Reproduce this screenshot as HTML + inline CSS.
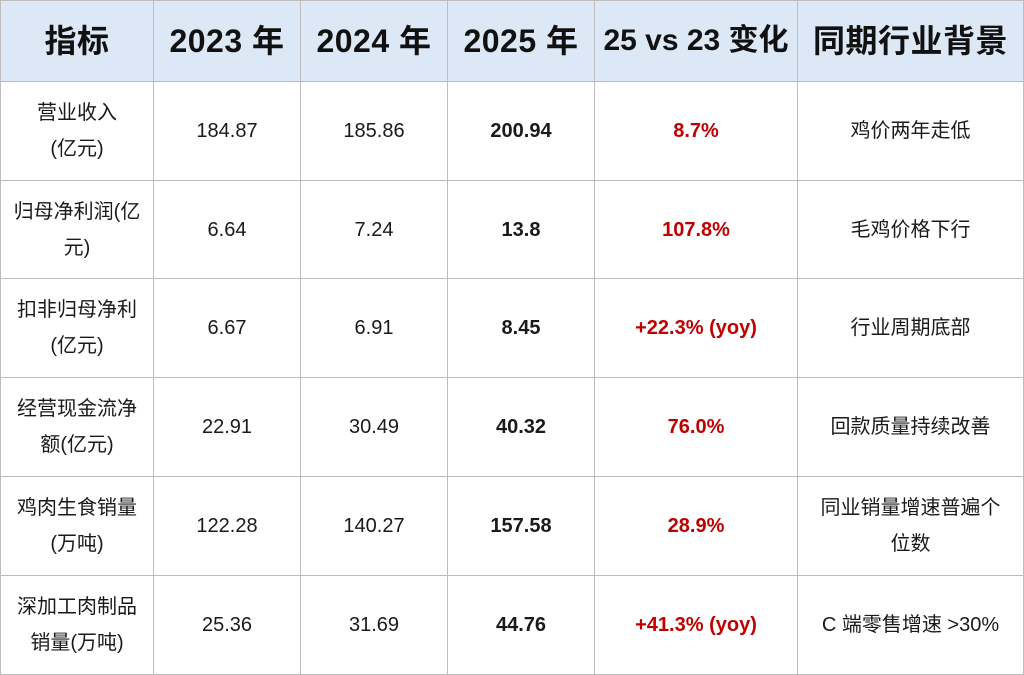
<!DOCTYPE html>
<html><head><meta charset="utf-8"><style>
body{margin:0;background:#fff;}
table{position:absolute;left:0;top:0;width:1023px;height:675px;border-collapse:collapse;table-layout:fixed;font-family:"Liberation Sans","Noto Sans CJK SC",sans-serif;color:#1a1a1a;}
td,th{border:1.5px solid #bdbdbd;text-align:center;vertical-align:middle;padding:0 4px;font-size:20px;line-height:36px;}
th{background:#dce8f6;font-size:32px;font-weight:bold;height:79px;color:#111;letter-spacing:0.5px;}
td{height:97px;}
.b{font-weight:bold;}
.r{color:#c00000;font-weight:bold;}
</style></head><body>
<table>
<colgroup><col style="width:153px"><col style="width:147px"><col style="width:147px"><col style="width:147px"><col style="width:203px"><col style="width:226px"></colgroup>
<tr><th>指标</th><th>2023 年</th><th>2024 年</th><th>2025 年</th><th style="font-size:30px;letter-spacing:0">25 vs 23 变化</th><th>同期行业背景</th></tr>
<tr><td>营业收入<br>(亿元)</td><td>184.87</td><td>185.86</td><td class="b">200.94</td><td class="r">8.7%</td><td>鸡价两年走低</td></tr>
<tr><td>归母净利润(亿<br>元)</td><td>6.64</td><td>7.24</td><td class="b">13.8</td><td class="r">107.8%</td><td>毛鸡价格下行</td></tr>
<tr><td>扣非归母净利<br>(亿元)</td><td>6.67</td><td>6.91</td><td class="b">8.45</td><td class="r">+22.3% (yoy)</td><td>行业周期底部</td></tr>
<tr><td>经营现金流净<br>额(亿元)</td><td>22.91</td><td>30.49</td><td class="b">40.32</td><td class="r">76.0%</td><td>回款质量持续改善</td></tr>
<tr><td>鸡肉生食销量<br>(万吨)</td><td>122.28</td><td>140.27</td><td class="b">157.58</td><td class="r">28.9%</td><td>同业销量增速普遍个<br>位数</td></tr>
<tr><td>深加工肉制品<br>销量(万吨)</td><td>25.36</td><td>31.69</td><td class="b">44.76</td><td class="r">+41.3% (yoy)</td><td>C 端零售增速 &gt;30%</td></tr>
</table>
</body></html>
